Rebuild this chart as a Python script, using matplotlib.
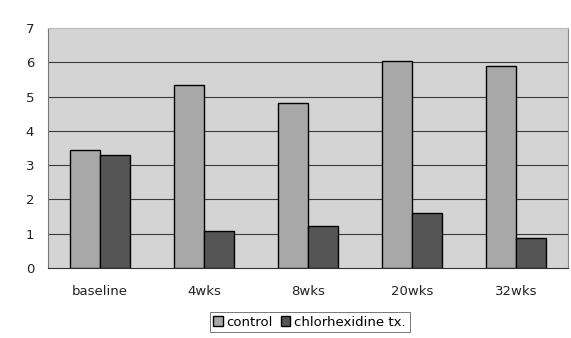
import numpy as np
import matplotlib.pyplot as plt

periods = ["baseline", "4wks", "8wks", "20wks", "32wks"]
control = [3.44, 5.34, 4.81, 6.03, 5.89]
chlorhexidine = [3.29, 1.08, 1.22, 1.60, 0.87]

fig = plt.figure(figsize=(5.71, 3.38), dpi=100)
ax = fig.add_axes([0.084, 0.207, 0.911, 0.71])
ax.set_facecolor("#d4d4d4")

x = np.arange(len(periods))
w = 0.29
ax.bar(x - w / 2, control, w, color="#a8a8a8", edgecolor="black", linewidth=1.0,
       label="control", zorder=3)
ax.bar(x + w / 2, chlorhexidine, w, color="#555555", edgecolor="black", linewidth=1.0,
       label="chlorhexidine tx.", zorder=3)

ax.set_xlim(-0.5, len(periods) - 0.5)
ax.set_ylim(0, 7)
ax.set_yticks(range(0, 8))
ax.set_xticks(x)
ax.set_xticklabels(periods)
# gridlines between the floor and the top edge only
ax.hlines(range(1, 7), -0.5, len(periods) - 0.5, color="#3a3a3a", linewidth=0.8, zorder=1)
ax.tick_params(axis="y", length=0, pad=10, labelsize=9.5, colors="#222222")
ax.tick_params(axis="x", length=0, pad=12, labelsize=9.5, colors="#222222")

ax.spines["top"].set_color("#bbbbbb")
ax.spines["right"].set_color("#888888")
ax.spines["left"].set_color("#777777")
ax.spines["bottom"].set_color("#333333")

leg = ax.legend(loc="center", bbox_to_anchor=(0.503, -0.225), ncol=2,
                fontsize=9.5, frameon=True, fancybox=False, edgecolor="#555555",
                handlelength=0.7, handleheight=0.7, handletextpad=0.3,
                columnspacing=0.6, borderpad=0.3, borderaxespad=0)
leg.get_frame().set_linewidth(0.7)

fig.savefig("out.png", dpi=100)
